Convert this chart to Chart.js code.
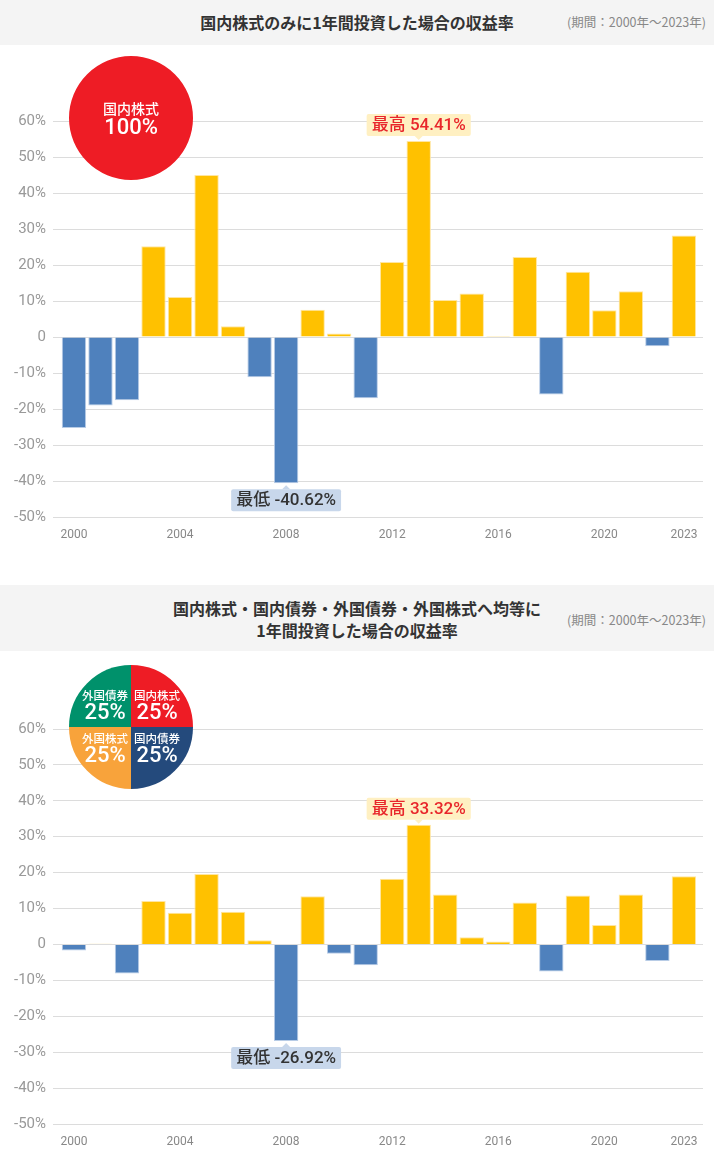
<!DOCTYPE html>
<html lang="ja">
<head>
<meta charset="utf-8">
<script src="https://cdn.jsdelivr.net/npm/chart.js@4.4.1/dist/chart.umd.min.js"></script>
<style>
body{margin:0;width:714px;height:1152px;position:relative;background:#fff;overflow:hidden;font-family:Roboto,"Noto Sans CJK JP",sans-serif}
.head{position:absolute;left:0;width:714px;background:#f4f4f4;color:#333}
.head .t{position:absolute;left:0;width:714px;text-align:center;font-weight:700;font-size:16px;line-height:22px;font-family:"Noto Sans CJK JP",sans-serif}
.head .p{position:absolute;right:8px;font-size:12.5px;line-height:16px;color:#888;font-family:"Noto Sans CJK JP",sans-serif}
canvas{position:absolute;left:0}
.badge{z-index:2}
</style>
</head>
<body>
<div class="head" style="top:0;height:45px">
  <div class="t" style="top:11px">国内株式のみに1年間投資した場合の収益率</div>
  <div class="p" style="top:14px">(期間：2000年〜2023年)</div>
</div>
<canvas id="chart1" width="714" height="500" style="top:45px"></canvas>
<canvas id="badge1" class="badge" width="124" height="124" style="left:69px;top:56px"></canvas>

<div class="head" style="top:585px;height:66px">
  <div class="t" style="top:12px">国内株式・国内債券・外国債券・外国株式へ均等に<br>1年間投資した場合の収益率</div>
  <div class="p" style="top:27px">(期間：2000年〜2023年)</div>
</div>
<canvas id="chart2" width="714" height="501" style="top:651px"></canvas>
<canvas id="badge2" class="badge" width="124" height="124" style="left:69px;top:665px"></canvas>

<script>
// data
const years = [2000, 2001, 2002, 2003, 2004, 2005, 2006, 2007, 2008, 2009, 2010, 2011,
               2012, 2013, 2014, 2015, 2016, 2017, 2018, 2019, 2020, 2021, 2022, 2023];
const domesticReturns = [-25.3, -19.0, -17.6, 25.2, 11.1, 45.0, 3.0, -11.2, -40.62, 7.6, 1.0, -17.0,
                         20.8, 54.41, 10.3, 12.1, 0.3, 22.2, -16.0, 18.1, 7.4, 12.7, -2.6, 28.2];
const balancedReturns = [-1.7, 0.2, -8.1, 12.1, 8.8, 19.6, 9.1, 1.2, -26.92, 13.4, -2.6, -5.8,
                         18.3, 33.32, 13.9, 2.0, 0.8, 11.7, -7.5, 13.6, 5.4, 13.9, -4.6, 19.0];
const tickYears = [2000, 2004, 2008, 2012, 2016, 2020, 2023];

const badge1Labels = ["国内株式"];
const badge1Shares = [100];
const badge2Labels = ["国内株式", "国内債券", "外国株式", "外国債券"];
const badge2Shares = [25, 25, 25, 25];

const upColor = "#ffc100";
const downColor = "#4f81bd";

function drawTag(ctx, bar, text, bg, fg, above) {
  ctx.save();
  ctx.font = '500 17px Roboto, "Noto Sans CJK JP"';
  var w = ctx.measureText(text).width + 10;
  var h = 22;
  var x = bar.x - w / 2;
  var y = above ? bar.y - 5 - h : bar.y + 6;
  ctx.fillStyle = bg;
  ctx.beginPath();
  ctx.roundRect(x, y, w, h, 2);
  ctx.fill();
  ctx.beginPath();
  if (above) {
    ctx.moveTo(bar.x - 4, y + h);
    ctx.lineTo(bar.x + 4, y + h);
    ctx.lineTo(bar.x, y + h + 4);
  } else {
    ctx.moveTo(bar.x - 4, y);
    ctx.lineTo(bar.x + 4, y);
    ctx.lineTo(bar.x, y - 4);
  }
  ctx.fill();
  ctx.fillStyle = fg;
  ctx.textAlign = "center";
  ctx.textBaseline = "middle";
  ctx.fillText(text, bar.x, y + h / 2 + 1);
  ctx.restore();
}

const extremeTags = {
  id: "extremeTags",
  afterDatasetsDraw(chart) {
    var vals = chart.data.datasets[0].data.map(d => d.y);
    var meta = chart.getDatasetMeta(0);
    var hi = vals.indexOf(Math.max(...vals));
    var lo = vals.indexOf(Math.min(...vals));
    drawTag(chart.ctx, meta.data[hi], "最高 " + vals[hi].toFixed(2) + "%", "#fff0c2", "#e8262b", true);
    drawTag(chart.ctx, meta.data[lo], "最低 " + vals[lo].toFixed(2) + "%", "#c8d7eb", "#333333", false);
  }
};

function makeBarChart(id, values, padTop) {
  return new Chart(document.getElementById(id), {
    type: "bar",
    data: {
      datasets: [{
        data: years.map((y, i) => ({ x: y, y: values[i] })),
        backgroundColor: values.map(v => v >= 0 ? upColor : downColor),
        borderColor: values.map(v => v >= 0 ? "#ffe6a0" : "#b8cce6"),
        borderWidth: 1,
        barPercentage: 0.92,
        categoryPercentage: 1
      }]
    },
    options: {
      responsive: false,
      animation: false,
      events: [],
      layout: { padding: { top: padTop, right: 11, left: 0, bottom: 0 } },
      plugins: { legend: { display: false }, tooltip: { enabled: false } },
      scales: {
        x: {
          type: "linear",
          offset: false,
          min: 1999.21,
          max: 2023.72,
          grid: { display: false },
          border: { display: false },
          afterBuildTicks: s => { s.ticks = tickYears.map(v => ({ value: v })); },
          afterFit: s => { s.height = 28; },
          ticks: {
            autoSkip: false, maxRotation: 0, padding: 3, color: "#888",
            font: { size: 12, family: "Roboto" },
            callback: v => String(v)
          }
        },
        y: {
          min: -50,
          max: 60,
          grid: { color: "#dcdcdc", drawTicks: false },
          border: { display: false },
          afterFit: s => { s.width = 53; },
          ticks: {
            stepSize: 10, padding: 7, color: "#999",
            font: { size: 15, family: "Roboto" },
            callback: v => v === 0 ? "0" : v + "%"
          }
        }
      }
    },
    plugins: [extremeTags]
  });
}

const badgeText = {
  id: "badgeText",
  afterDraw(chart) {
    var ctx = chart.ctx;
    var ds = chart.data.datasets[0];
    var arcs = chart.getDatasetMeta(0).data;
    ctx.save();
    ctx.fillStyle = "#fff";
    ctx.textAlign = "center";
    ctx.textBaseline = "middle";
    arcs.forEach(function (arc, i) {
      var x, y1, y2, small, big;
      if (arcs.length === 1) {
        x = arc.x; y1 = arc.y - 9.5; y2 = arc.y + 10.5; small = 14; big = 22;
      } else {
        var mid = (arc.startAngle + arc.endAngle) / 2;
        x = arc.x + Math.sign(Math.cos(mid)) * 26;
        y1 = arc.y + (Math.sin(mid) < 0 ? -31 : 12);
        y2 = y1 + 17;
        small = 11.5; big = 22;
      }
      ctx.font = '500 ' + small + 'px "Noto Sans CJK JP"';
      ctx.fillText(chart.data.labels[i], x, y1);
      ctx.font = '500 ' + big + 'px Roboto';
      ctx.fillText(ds.data[i] + "%", x, y2);
    });
    ctx.restore();
  }
};

function makeBadge(id, labels, shares, colors) {
  return new Chart(document.getElementById(id), {
    type: "pie",
    data: { labels: labels, datasets: [{ data: shares, backgroundColor: colors, borderWidth: 0 }] },
    options: {
      responsive: false,
      animation: false,
      events: [],
      plugins: { legend: { display: false }, tooltip: { enabled: false } }
    },
    plugins: [badgeText]
  });
}

makeBarChart("chart1", domesticReturns, 76);
makeBarChart("chart2", balancedReturns, 78);
makeBadge("badge1", badge1Labels, badge1Shares, ["#ee1c25"]);
makeBadge("badge2", badge2Labels, badge2Shares, ["#ee1c25", "#244a7c", "#f8a33b", "#00916b"]);
</script>
</body>
</html>
